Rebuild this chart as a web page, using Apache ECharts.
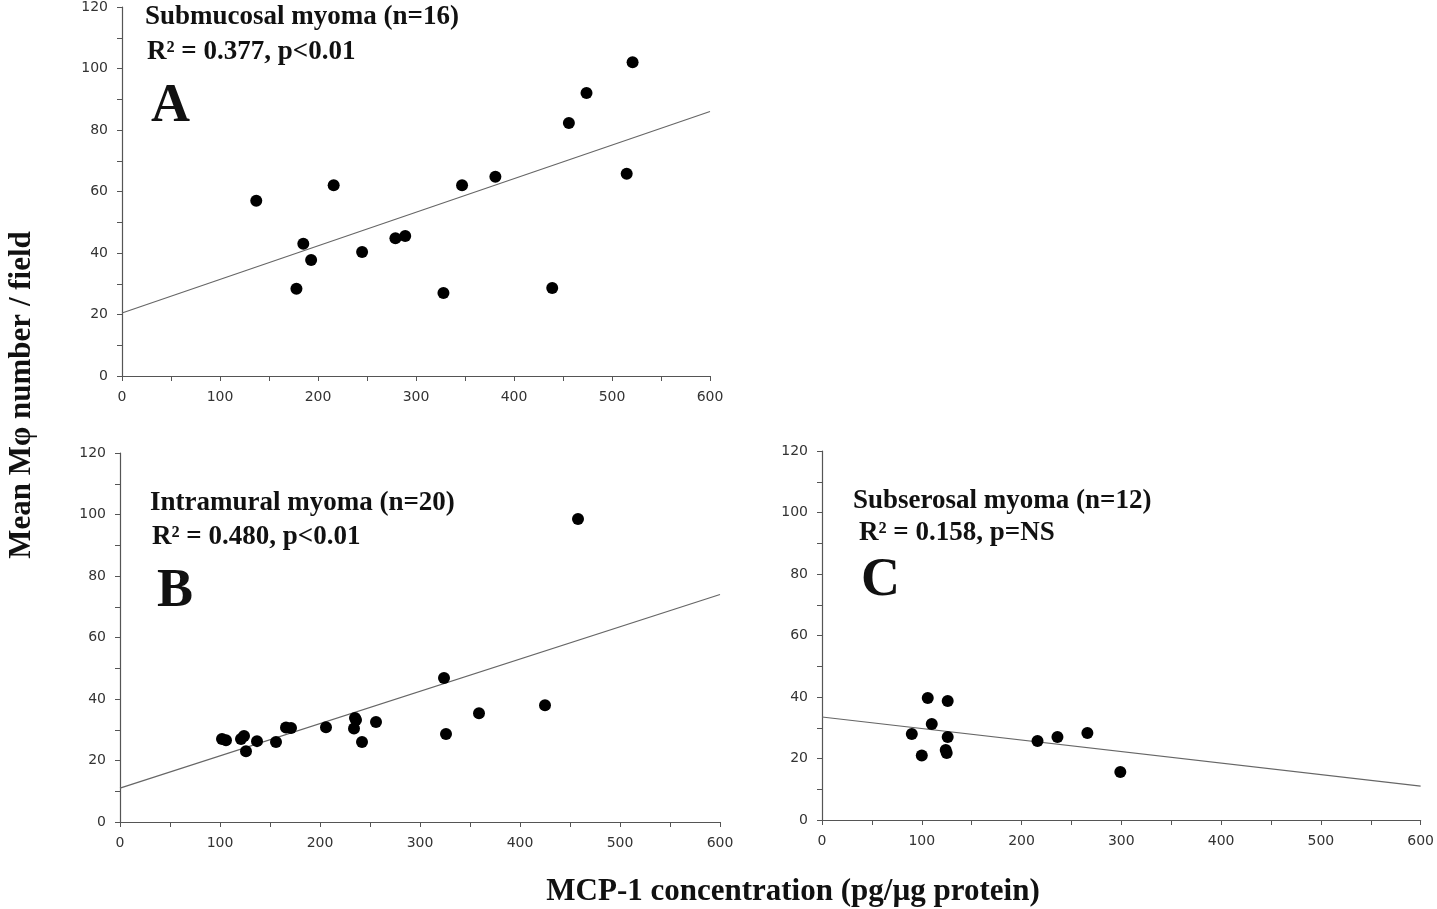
<!DOCTYPE html>
<html><head><meta charset="utf-8">
<script src="https://cdn.jsdelivr.net/npm/echarts@6/dist/echarts.min.js"></script>
<style>html,body{margin:0;padding:0;background:#fff}#c{width:1437px;height:909px}</style>
</head><body><div id="c"></div>
<script>
// Panel A: Submucosal myoma (n=16)
const subX = [137, 178, 185, 193, 216, 245, 279, 289, 328, 347, 381, 439, 456, 474, 515, 521];
const subY = [57, 28.4, 43, 37.7, 62, 40.3, 44.8, 45.5, 27, 62, 64.8, 28.6, 82.3, 92, 65.8, 102];
const subFitX = [0, 600];
const subFitY = [20.5, 86];
// Panel B: Intramural myoma (n=20)
const intX = [102, 106, 121, 124, 126, 137, 156, 166, 171, 206, 234, 235, 236, 242, 256, 324, 326, 359, 425, 458];
const intY = [27, 26.6, 27, 28, 23, 26.3, 26, 30.7, 30.6, 30.8, 30.4, 33.8, 33.2, 26, 32.5, 46.8, 28.6, 35.4, 38, 98.5];
const intFitX = [0, 600];
const intFitY = [11, 74];
// Panel C: Subserosal myoma (n=12)
const serX = [90, 100, 106, 110, 124, 126, 126, 125, 216, 236, 266, 299];
const serY = [28, 21, 39.7, 31.2, 22.8, 38.7, 27, 21.8, 25.7, 27, 28.3, 15.6];
const serFitX = [0, 600];
const serFitY = [33.5, 11];

const xTicks = [0, 100, 200, 300, 400, 500, 600];
const yTicks = [0, 20, 40, 60, 80, 100, 120];

const pair = (xs, ys) => xs.map((x, i) => [x, ys[i]]);

const chart = echarts.init(document.getElementById('c'));
const axisCol = '#555';
const tickFont = {fontFamily: 'DejaVu Sans', fontSize: 14, color: '#333'};
function xAxis(i) {
  return {type: 'value', gridIndex: i, min: xTicks[0], max: xTicks[xTicks.length - 1], interval: 100,
    axisLine: {onZero: false, lineStyle: {color: axisCol, width: 1.2}},
    axisTick: {length: 5, lineStyle: {color: axisCol}},
    minorTick: {show: true, splitNumber: 2, length: 5, lineStyle: {color: axisCol}},
    splitLine: {show: false},
    axisLabel: Object.assign({margin: 14}, tickFont)};
}
function yAxis(i) {
  return {type: 'value', gridIndex: i, min: yTicks[0], max: yTicks[yTicks.length - 1], interval: 20,
    axisLine: {show: true, onZero: false, lineStyle: {color: axisCol, width: 1.2}},
    axisTick: {show: true, length: 5, lineStyle: {color: axisCol}},
    minorTick: {show: true, splitNumber: 2, length: 5, lineStyle: {color: axisCol}},
    splitLine: {show: false},
    axisLabel: Object.assign({margin: 14}, tickFont)};
}
function scatter(i, xs, ys) {
  return {type: 'scatter', xAxisIndex: i, yAxisIndex: i, data: pair(xs, ys), symbolSize: 12,
    itemStyle: {color: '#000', opacity: 1}, z: 3};
}
function fit(i, xs, ys) {
  return {type: 'line', xAxisIndex: i, yAxisIndex: i, data: pair(xs, ys), symbol: 'none',
    lineStyle: {color: '#666', width: 1.2}, z: 2};
}
const serif = 'Liberation Serif';
function txt(left, top, text, size) {
  return {type: 'text', left: left, top: top, style: {text: text, font: 'bold ' + size + 'px "' + serif + '"', fill: '#111'}};
}
chart.setOption({
  animation: false,
  grid: [
    {left: 122, top: 4, width: 588, height: 372},
    {left: 120, top: 453, width: 600, height: 369},
    {left: 822, top: 451, width: 602, height: 369}
  ],
  xAxis: [xAxis(0), xAxis(1), xAxis(2)],
  yAxis: [yAxis(0), yAxis(1), yAxis(2)],
  series: [
    scatter(0, subX, subY), fit(0, subFitX, subFitY),
    scatter(1, intX, intY), fit(1, intFitX, intFitY),
    scatter(2, serX, serY), fit(2, serFitX, serFitY)
  ],
  graphic: [
    txt(145, 4, 'Submucosal myoma (n=16)', 27),
    txt(147, 39, 'R² = 0.377, p<0.01', 27),
    txt(151, 80, 'A', 54),
    txt(150, 490, 'Intramural myoma (n=20)', 27),
    txt(152, 524, 'R² = 0.480, p<0.01', 27),
    txt(157, 565, 'B', 54),
    txt(853, 488, 'Subserosal myoma (n=12)', 27),
    txt(859, 520, 'R² = 0.158, p=NS', 27),
    txt(861, 554, 'C', 54),
    {type: 'text', x: 22, y: 395, rotation: Math.PI / 2,
      style: {text: 'Mean Mφ number / field', font: 'bold 31px "' + serif + '"', fill: '#111', align: 'center', verticalAlign: 'middle'}},
    {type: 'text', x: 793, y: 892,
      style: {text: 'MCP-1 concentration (pg/µg protein)', font: 'bold 31px "' + serif + '"', fill: '#111', align: 'center', verticalAlign: 'middle'}}
  ]
});
</script>
</body></html>
